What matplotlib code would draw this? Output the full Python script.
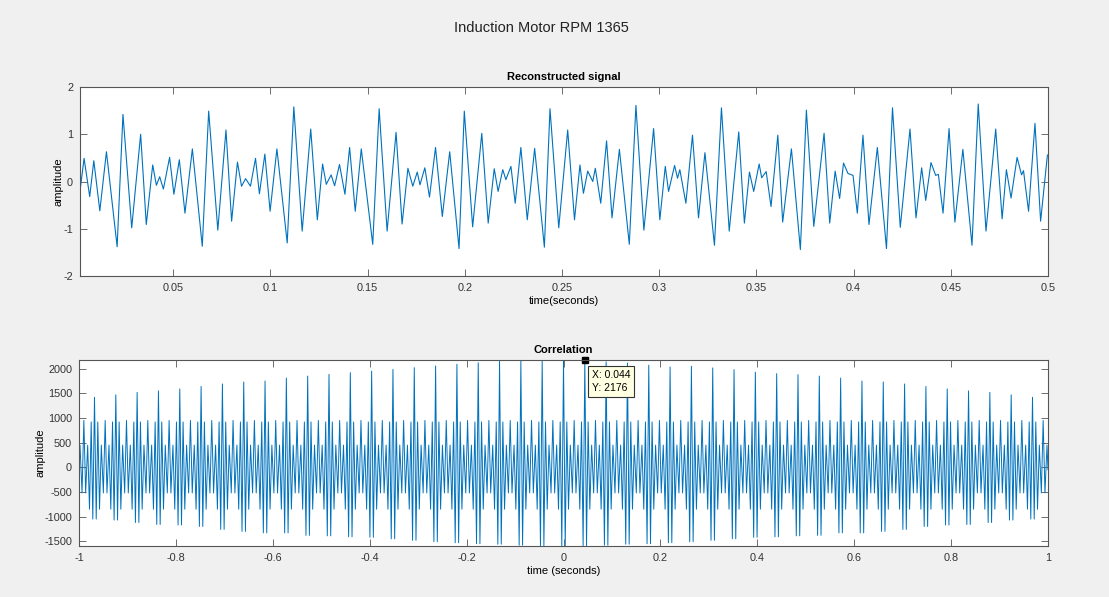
"""Induction motor: reconstructed signal and its correlation (MATLAB-style figure)"""

import matplotlib.pyplot as plt

plt.rcParams['font.family'] = ['Liberation Sans', 'DejaVu Sans']
plt.rcParams['axes.unicode_minus'] = False

## reconstructed signal: local extrema
sig_t = [0.0020, 0.0041, 0.0070, 0.0091, 0.0122, 0.0156, 0.0211, 0.0241, 0.0286, 0.0332,
         0.0361, 0.0394, 0.0413, 0.0430, 0.0449, 0.0481, 0.0503, 0.0531, 0.0560, 0.0598,
         0.0649, 0.0682, 0.0729, 0.0771, 0.0800, 0.0830, 0.0851, 0.0872, 0.0897, 0.0923,
         0.0943, 0.0971, 0.0998, 0.1033, 0.1086, 0.1120, 0.1163, 0.1207, 0.1241,
         0.1268, 0.1287, 0.1312, 0.1330, 0.1355, 0.1383, 0.1407, 0.1436, 0.1467, 0.1526,
         0.1559, 0.1600, 0.1646, 0.1677, 0.1707, 0.1732, 0.1755, 0.1769, 0.1794, 0.1818,
         0.1849, 0.1884, 0.1922, 0.1970, 0.1997, 0.2040, 0.2087, 0.2120, 0.2151, 0.2171,
         0.2195, 0.2211, 0.2237, 0.2259, 0.2288, 0.2321, 0.2359, 0.2409, 0.2438, 0.2483,
         0.2529, 0.2564,
         0.2592, 0.2610, 0.2632, 0.2658, 0.2671, 0.2699, 0.2729, 0.2757, 0.2795, 0.2846,
         0.2880, 0.2921, 0.2971, 0.3003, 0.3031, 0.3048, 0.3079, 0.3094, 0.3106, 0.3137,
         0.3171, 0.3202, 0.3235, 0.3284, 0.3320, 0.3360, 0.3409, 0.3438, 0.3464, 0.3486,
         0.3514, 0.3527, 0.3550, 0.3575, 0.3610, 0.3635, 0.3680, 0.3726, 0.3757, 0.3795,
         0.3848, 0.3877,
         0.3905, 0.3928, 0.3948, 0.3971, 0.3997, 0.4019, 0.4048, 0.4079, 0.4122, 0.4169,
         0.4200, 0.4240, 0.4290, 0.4321, 0.4350, 0.4371, 0.4398, 0.4422, 0.4436, 0.4460,
         0.4491, 0.4521, 0.4562, 0.4609, 0.4641, 0.4681, 0.4731, 0.4764, 0.4786, 0.4810,
         0.4841, 0.4864, 0.4874, 0.4900, 0.4933, 0.4962, 0.4997]
sig_v = [-0.20, 0.49, -0.32, 0.44, -0.62, 0.63, -1.38, 1.42, -0.98, 1.00,
         -0.91, 0.35, -0.08, 0.10, -0.16, 0.51, -0.27, 0.46, -0.67, 0.69,
         -1.37, 1.49, -1.03, 1.09, -0.84, 0.41, -0.10, 0.06, -0.10, 0.49,
         -0.26, 0.58, -0.63, 0.69, -1.30, 1.58, -1.05, 1.11, -0.81,
         0.37, -0.06, 0.14, -0.09, 0.36, -0.27, 0.72, -0.63, 0.69, -1.33,
         1.54, -1.05, 1.04, -0.90, 0.28, -0.10, 0.20, -0.07, 0.29, -0.33,
         0.72, -0.74, 0.63, -1.42, 1.49, -0.96, 1.02, -0.88, 0.27, -0.21,
         0.25, 0.04, 0.32, -0.46, 0.72, -0.81, 0.70, -1.39, 1.54, -0.98,
         1.09, -0.81,
         0.35, -0.25, 0.22, 0.00, 0.28, -0.46, 0.86, -0.77, 0.68, -1.33,
         1.61, -1.03, 1.12, -0.81, 0.32, -0.21, 0.34, 0.07, 0.25, -0.46,
         0.98, -0.77, 0.61, -1.35, 1.56, -1.05, 1.05, -0.88, 0.20, -0.21,
         0.37, 0.08, 0.21, -0.53, 0.98, -0.86, 0.69, -1.44, 1.51, -0.95,
         1.02, -0.88,
         0.22, -0.36, 0.39, 0.17, 0.13, -0.67, 0.98, -0.91, 0.72, -1.42,
         1.56, -0.97, 1.11, -0.77, 0.29, -0.40, 0.40, 0.13, 0.15, -0.67,
         1.12, -0.86, 0.68, -1.35, 1.64, -1.05, 1.11, -0.79, 0.25, -0.35,
         0.51, 0.14, 0.23, -0.63, 1.23, -0.84, 0.56]

## correlation: tall peaks (one per motor period), deep troughs beside them
tall_lag = [-0.968, -0.924, -0.880, -0.836, -0.792, -0.748, -0.704, -0.660, -0.616, -0.572,
            -0.528, -0.484, -0.440, -0.396, -0.352, -0.308, -0.264, -0.220, -0.176, -0.132,
            -0.088, -0.044, 0.000, 0.044, 0.088, 0.132, 0.176, 0.220, 0.264, 0.308,
            0.352, 0.396, 0.440, 0.484, 0.528, 0.572, 0.616, 0.660, 0.704, 0.748,
            0.792, 0.836, 0.880, 0.924, 0.968]
tall_val = [1420, 1470, 1520, 1550, 1590, 1640, 1690, 1730, 1750, 1810,
            1850, 1885, 1920, 1950, 1985, 2020, 2055, 2090, 2120, 2150,
            2160, 2170, 2170, 2176, 2140, 2115, 2070, 2035, 2050, 2015,
            1980, 1930, 1900, 1880, 1850, 1810, 1750, 1730, 1690, 1640,
            1590, 1550, 1520, 1470, 1420]
trough_val = [-1050, -1070, -1120, -1160, -1170, -1200, -1260, -1300, -1330, -1330,
              -1380, -1390, -1410, -1420, -1450, -1480, -1510, -1530, -1550, -1560,
              -1580, -1590, -1600, -1590, -1580, -1560, -1550, -1530, -1510, -1480,
              -1450, -1420, -1410, -1390, -1380, -1330, -1330, -1300, -1260, -1200,
              -1170, -1160, -1120, -1070, -1050]
# oscillation between two tall peaks (fraction of the period, value)
mid_off = [0.155, 0.235, 0.32, 0.415, 0.5, 0.585, 0.68, 0.765, 0.845]
mid_val = [920, -850, 450, -520, 950, -520, 450, -850, 920]
trough_off = [0.08, 0.92]
edge_val = [-100, -50]

## build correlation sequence
n = len(tall_lag)
per = tall_lag[1] - tall_lag[0]
corr_lag = [-1.0]
corr_val = [edge_val[0]]
for i in range(-1, n):
    a = tall_lag[i] if i >= 0 else tall_lag[0] - per
    if i >= 0:
        corr_lag.append(a)
        corr_val.append(tall_val[i])
    offs = [trough_off[0]] + mid_off + [trough_off[1]]
    vals = [trough_val[max(i, 0)]] + mid_val + [trough_val[min(i + 1, n - 1)]]
    for o, v in zip(offs, vals):
        lag = a + o * per
        if -1.0 < lag < 1.0:
            corr_lag.append(lag)
            corr_val.append(v)
corr_lag.append(1.0)
corr_val.append(edge_val[1])

## drawing
blue = '#0072BD'
W, H = 1109, 597
fig = plt.figure(figsize=(W / 100, H / 100), dpi=100, facecolor='#F0F0F0')
ax1 = fig.add_axes([80 / W, 1 - 276 / H, 968 / W, 189 / H])
ax2 = fig.add_axes([79 / W, 1 - 546 / H, 969 / W, 186 / H])

ax1.plot(sig_t, sig_v, color=blue, lw=0.8)
ax1.set_xlim(0.002, 0.5)
ax1.set_ylim(-2, 2)
ax1.set_xticks([0.05, 0.1, 0.15, 0.2, 0.25, 0.3, 0.35, 0.4, 0.45, 0.5])
ax1.set_xticklabels(['0.05', '0.1', '0.15', '0.2', '0.25', '0.3', '0.35', '0.4', '0.45', '0.5'])
ax1.set_yticks([-2, -1, 0, 1, 2])
ax1.set_title('Reconstructed signal', fontsize=8, fontweight='bold', pad=5)
ax1.set_xlabel('time(seconds)', fontsize=8, labelpad=2)
ax1.set_ylabel('amplitude', fontsize=8)
ax1.yaxis.set_label_coords(-17 / 968, 0.5)

ax2.plot(corr_lag, corr_val, color=blue, lw=0.7)
ax2.set_xlim(-1, 1)
ax2.set_ylim(-1596, 2176)
ax2.set_xticks([-1, -0.8, -0.6, -0.4, -0.2, 0, 0.2, 0.4, 0.6, 0.8, 1])
ax2.set_xticklabels(['-1', '-0.8', '-0.6', '-0.4', '-0.2', '0', '0.2', '0.4', '0.6', '0.8', '1'])
ax2.set_yticks([-1500, -1000, -500, 0, 500, 1000, 1500, 2000])
ax2.set_title('Correlation', fontsize=8, fontweight='bold', pad=5)
ax2.set_xlabel('time (seconds)', fontsize=8, labelpad=2)
ax2.set_ylabel('amplitude', fontsize=8)
ax2.yaxis.set_label_coords(-34 / 969, 0.5)

for ax in (ax1, ax2):
    ax.set_facecolor('white')
    for s in ax.spines.values():
        s.set_color('#555555')
        s.set_linewidth(0.8)
    ax.tick_params(direction='in', top=True, right=True, length=5, width=0.6,
                   color='#555555', labelsize=7.8, labelcolor='#333333', pad=5)

# data tip
ax2.plot([0.044], [2176], marker='s', color='black', ms=5, clip_on=False)
ax2.annotate('X: 0.044\nY: 2176', xy=(0.044, 2176), xytext=(7, -10),
             textcoords='offset pixels', ha='left', va='top', fontsize=7.5, linespacing=1.35,
             bbox=dict(boxstyle='square,pad=0.4', fc='#FFFFE1', ec='#333333', lw=0.8))

fig.text(541 / W, 1 - 28 / H, 'Induction Motor RPM 1365', ha='center', va='center',
         fontsize=10.5, color='#222222')

fig.savefig('out.png', dpi=100, facecolor=fig.get_facecolor())
